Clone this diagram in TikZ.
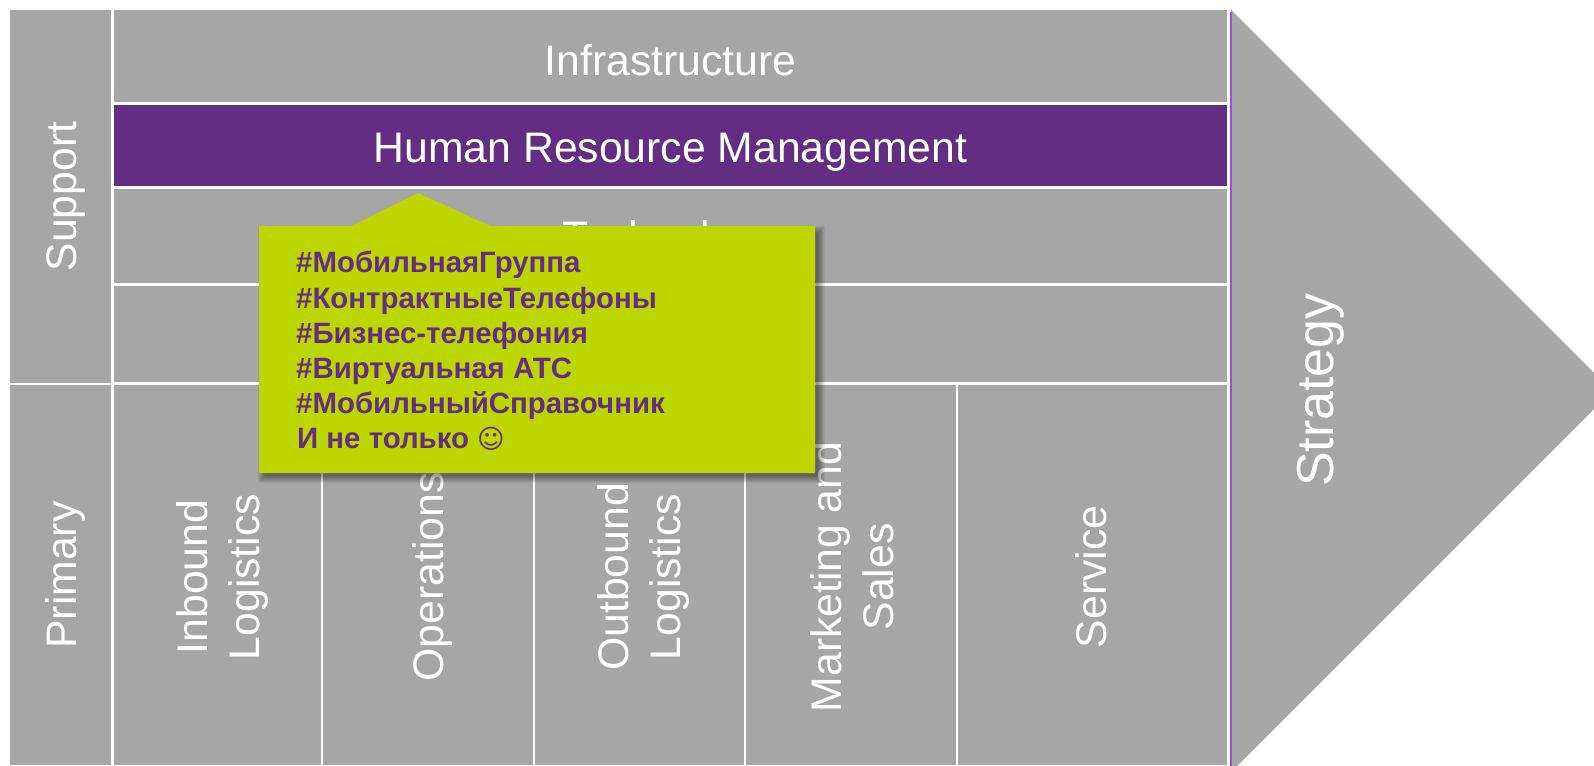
\documentclass[tikz,border=0pt]{standalone}
\usepackage{fontspec}
\setmainfont{Liberation Sans}
\newfontfamily\smileyfont{DejaVu Sans}
\definecolor{cellgray}{HTML}{A6A6A6}
\definecolor{hrpurple}{HTML}{642D84}
\definecolor{linepurple}{HTML}{A845E8}
\definecolor{calloutgreen}{HTML}{BED600}
\tikzset{
  cell/.style={rectangle,fill=cellgray,draw=white,line width=2.5pt,inner sep=0pt,outer sep=0pt},
  celltext/.style={inner sep=0pt,text=white,align=center,font=\fontsize{42.7}{52}\selectfont},
  vtext/.style={celltext,rotate=90},
  tagline/.style={anchor=base west,inner sep=0pt,text=hrpurple,font=\fontsize{29.4}{35}\selectfont\bfseries},
  shadowlayer/.style={fill=black,fill opacity=0.06,draw=none}
}
\begin{document}
\begin{tikzpicture}[x=1pt,y=-1pt]
\useasboundingbox (0,0) rectangle (1594,765);
\clip (0,0) rectangle (1594,765);
\fill[white] (0,0) rectangle (1594,765);
% left cells
\node[cell,minimum height=375pt,minimum width=103.5pt] (support) at (60.75,196.5) {};
\node[cell,minimum height=382pt,minimum width=103.5pt] (primary) at (60.75,575) {};
% support rows
\node[cell,minimum width=1116pt,minimum height=94.5pt] (infra) at (670.5,56.25) {};
\node[cell,fill=hrpurple,minimum width=1116pt,minimum height=84pt] (hrm) at (670.5,145.5) {};
\node[cell,minimum width=1116pt,minimum height=97pt] (tech) at (670.5,236) {};
\node[cell,minimum width=1116pt,minimum height=99pt] (proc) at (670.5,334) {};
% primary columns
\node[cell,minimum height=382pt,minimum width=209pt] (inbound) at (217.5,575) {};
\node[cell,minimum height=382pt,minimum width=212pt] (ops) at (428,575) {};
\node[cell,minimum height=382pt,minimum width=211pt] (outbound) at (639.5,575) {};
\node[cell,minimum height=382pt,minimum width=212pt] (marketing) at (851,575) {};
\node[cell,minimum height=382pt,minimum width=271.5pt] (service) at (1092.75,575) {};
% cell texts
\node[vtext] (tsupport) at (65.75,196.5) {Support};
\node[vtext] (tprimary) at (65.75,575) {Primary};
\node[celltext] (tinfra) at (670.5,60.25) {Infrastructure};
\node[celltext] (thrm) at (670.5,152) {Human Resource Management};
\node[celltext] (ttech) at (670.5,240.5) {Technology};
\node[vtext] (tinbound) at (222,577) {Inbound\\Logistics};
\node[vtext] (tops) at (432,577) {Operations};
\node[vtext] (toutbound) at (643,577) {Outbound\\Logistics};
\node[vtext] (tmarketing) at (852,577) {Marketing and\\Sales};
\node[vtext] (tservice) at (1091,577) {Service};
% strategy chevron
\fill[cellgray] (1231,10) -- (1612,391) -- (1231,772) -- cycle;
\draw[linepurple,line width=1.5pt] (1230.8,12) -- (1230.8,770);
\node[rotate=90,inner sep=0pt,text=white,font=\fontsize{52}{60}\selectfont] (strategy) at (1320.5,390) {Strategy};
% callout shadow
\foreach \g in {0,1,2,3,4,5,6,7} {
  \fill[shadowlayer] (258+\g,226+\g) rectangle (825-\g,483-\g);
}
% callout
\fill[calloutgreen] (259,226) -- (351.5,226) -- (418,193) -- (490.5,226) -- (815,226) -- (815,473) -- (259,473) -- cycle;
\node[tagline] (t1) at (296,272) {\#МобильнаяГруппа};
\node[tagline] (t2) at (296,308) {\#КонтрактныеТелефоны};
\node[tagline] (t3) at (296,343.5) {\#Бизнес-телефония};
\node[tagline] (t4) at (296,378) {\#Виртуальная АТС};
\node[tagline] (t5) at (296,413.5) {\#МобильныйСправочник};
\node[tagline] (t6) at (297,448.5) {И не только {\smileyfont\mdseries\fontsize{26.5}{30}\selectfont ☺}};
\end{tikzpicture}
\end{document}
